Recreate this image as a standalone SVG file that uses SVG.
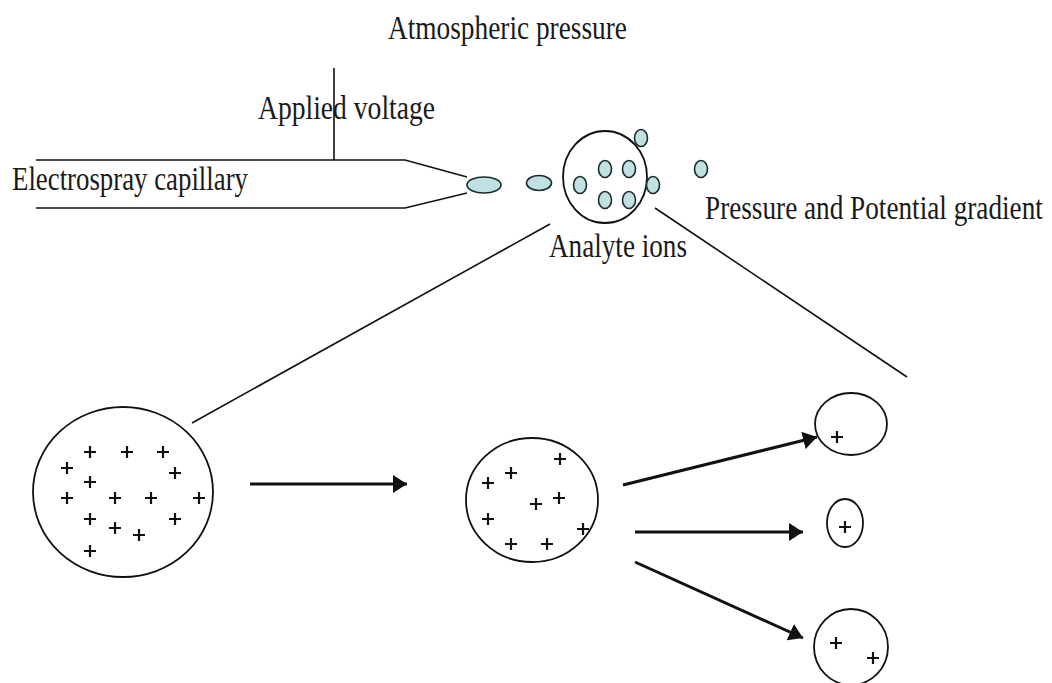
<svg xmlns="http://www.w3.org/2000/svg" width="1052" height="683" viewBox="0 0 1052 683">
<defs>
<style>
.t{font-family:"Liberation Serif","Times New Roman",serif;font-size:33px;fill:#1a1a1a}
.ln{stroke:#111;stroke-width:1.6;fill:none}
.ar{stroke:#111;stroke-width:3;fill:none}
.dr{fill:#bfe1e3;stroke:#1d2b2b;stroke-width:1.6}
.cir{fill:none;stroke:#111;stroke-width:1.8}
.pl{stroke:#111;stroke-width:2.2;fill:none}
</style>
<marker id="ah" markerUnits="userSpaceOnUse" markerWidth="16" markerHeight="18" refX="14" refY="9" orient="auto">
<path d="M0,0 L14,9 L0,18 Z" fill="#111"/>
</marker>
<path id="p" d="M-6,0 H6 M0,-6 V6"/>
</defs>
<rect width="1052" height="683" fill="#fff"/>

<g id="labels">
<text class="t" x="388" y="39" textLength="239" lengthAdjust="spacingAndGlyphs">Atmospheric pressure</text>
<text class="t" x="258" y="119" textLength="177" lengthAdjust="spacingAndGlyphs">Applied voltage</text>
<text class="t" x="12" y="190" textLength="236" lengthAdjust="spacingAndGlyphs">Electrospray capillary</text>
<text class="t" transform="translate(705,219) scale(0.824,1)" x="0" y="0" textLength="410" lengthAdjust="spacingAndGlyphs">Pressure and Potential gradient</text>
<text class="t" x="549" y="257" textLength="138" lengthAdjust="spacingAndGlyphs">Analyte ions</text>
</g>

<g id="capillary">
<path class="ln" d="M36,160 H405 L467,177 M36,208 H405 L467,193"/>
<path class="ln" d="M334,68 V160"/>
</g>

<g id="spray">
<ellipse class="dr" cx="484" cy="185" rx="17" ry="8"/>
<ellipse class="dr" cx="539" cy="183" rx="12.5" ry="7.5"/>
<ellipse class="cir" cx="605" cy="177" rx="42" ry="46"/>
<ellipse class="dr" cx="580" cy="185" rx="6.5" ry="8.5"/>
<ellipse class="dr" cx="605" cy="169" rx="6.5" ry="8.5"/>
<ellipse class="dr" cx="629" cy="169" rx="6.5" ry="8.5"/>
<ellipse class="dr" cx="605" cy="200" rx="6.5" ry="8.5"/>
<ellipse class="dr" cx="629" cy="200" rx="6.5" ry="8.5"/>
<ellipse class="dr" cx="641" cy="138" rx="6.5" ry="8.5"/>
<ellipse class="dr" cx="653" cy="185" rx="6.5" ry="8.5"/>
<ellipse class="dr" cx="701" cy="169" rx="6.5" ry="8.5"/>
</g>

<g id="zoom-lines">
<path class="ln" d="M550,224 L192,423"/>
<path class="ln" d="M655,208 L907,377"/>
</g>

<g id="droplet-large">
<ellipse class="cir" cx="123" cy="492" rx="90" ry="85"/>
<g class="pl">
<use href="#p" x="90" y="452"/><use href="#p" x="127" y="452"/><use href="#p" x="163" y="452"/>
<use href="#p" x="67" y="468"/><use href="#p" x="175" y="473"/><use href="#p" x="90" y="482"/>
<use href="#p" x="67" y="498"/><use href="#p" x="115" y="498"/><use href="#p" x="151" y="498"/>
<use href="#p" x="199" y="498"/><use href="#p" x="90" y="519"/><use href="#p" x="175" y="519"/>
<use href="#p" x="115" y="528"/><use href="#p" x="139" y="535"/><use href="#p" x="90" y="551"/>
</g>
</g>

<g id="droplet-medium">
<ellipse class="cir" cx="532" cy="500" rx="66" ry="62"/>
<g class="pl">
<use href="#p" x="560" y="459"/><use href="#p" x="511" y="473"/><use href="#p" x="488" y="483"/>
<use href="#p" x="559" y="498"/><use href="#p" x="536" y="504"/><use href="#p" x="488" y="519"/>
<use href="#p" x="583" y="529"/><use href="#p" x="511" y="544"/><use href="#p" x="547" y="544"/>
</g>
</g>

<g id="droplet-top">
<ellipse class="cir" cx="851" cy="424" rx="36" ry="31"/>
<use class="pl" href="#p" x="837" y="437"/>
</g>
<g id="droplet-mid">
<ellipse class="cir" cx="845" cy="523" rx="18" ry="24"/>
<use class="pl" href="#p" x="845" y="527"/>
</g>
<g id="droplet-bottom">
<ellipse class="cir" cx="851" cy="647" rx="37" ry="38"/>
<use class="pl" href="#p" x="836" y="643"/>
<use class="pl" href="#p" x="873" y="658"/>
</g>

<g id="connectors">
<path class="ar" d="M250,484 L407,484" marker-end="url(#ah)"/>
<path class="ar" d="M623,485 L817,437" marker-end="url(#ah)"/>
<path class="ar" d="M635,532 L803,532" marker-end="url(#ah)"/>
<path class="ar" d="M635,562 L803,638" marker-end="url(#ah)"/>
</g>
</svg>
